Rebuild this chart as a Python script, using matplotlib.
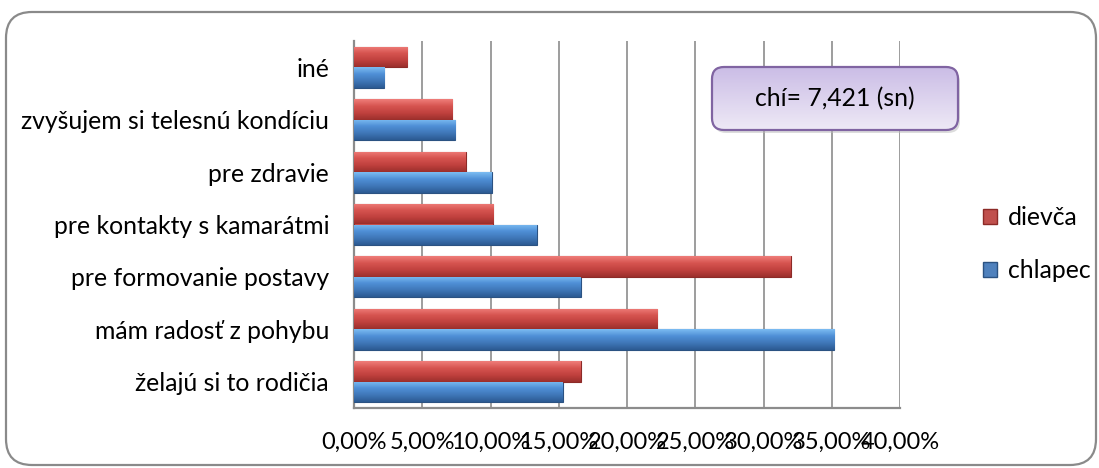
import numpy as np
import matplotlib
matplotlib.use("Agg")
import matplotlib.pyplot as plt
from matplotlib.patches import FancyBboxPatch, Patch
from matplotlib.colors import LinearSegmentedColormap
from matplotlib.ticker import FuncFormatter, MultipleLocator

plt.rcParams["font.family"] = ["Lato", "DejaVu Sans"]

categories = ["želajú si to rodičia", "mám radosť z pohybu", "pre formovanie postavy",
              "pre kontakty s kamarátmi", "pre zdravie", "zvyšujem si telesnú kondíciu", "iné"]
chlapec = [15.3, 35.2, 16.6, 13.4, 10.1, 7.4, 2.2]
dievca = [16.6, 22.2, 32.0, 10.2, 8.2, 7.2, 3.9]
note = "chí= 7,421 (sn)"

W, H = 1099, 468
fs = 17.8

fig = plt.figure(figsize=(W / 100, H / 100), dpi=100)

# background layer in pixel units for the frame and the note box
bg = fig.add_axes([0, 0, 1, 1], zorder=0)
bg.set_xlim(0, W)
bg.set_ylim(H, 0)
bg.axis("off")
bg.add_patch(FancyBboxPatch((6, 12), 1090, 453, boxstyle="round,pad=0,rounding_size=26",
                            fc="white", ec="#8a8a8a", lw=1.6))

ax = fig.add_axes([354 / W, 1 - 408 / H, (900 - 354) / W, (408 - 41) / H], zorder=1)
ax.patch.set_alpha(0)

y = np.arange(len(categories))
h = 0.39

red_cm = LinearSegmentedColormap.from_list("r", ["#9b2f2c", "#c0413e", "#d65450", "#ef7d7a"])
blue_cm = LinearSegmentedColormap.from_list("b", ["#2c5a92", "#3f77b8", "#4f8fd6", "#7cbcf2"])
grad = np.linspace(0, 1, 64).reshape(-1, 1)

bars_b = ax.barh(y - h / 2, chlapec, height=h, color="#4a85c8", ec="#2b5282", lw=0.8, zorder=3)
bars_r = ax.barh(y + h / 2, dievca, height=h, color="#c9504c", ec="#8c2a27", lw=0.8, zorder=3)

for bars, cm in ((bars_b, blue_cm), (bars_r, red_cm)):
    for b in bars:
        x0, y0 = b.get_x(), b.get_y()
        im = ax.imshow(grad, cmap=cm, aspect="auto", origin="lower",
                       extent=[x0, x0 + b.get_width(), y0, y0 + b.get_height()], zorder=3.5)
        im.set_clip_path(b)

ax.set_xlim(0, 40)
ax.set_ylim(-0.5, len(categories) - 0.5)
ax.xaxis.set_major_locator(MultipleLocator(5))
ax.xaxis.set_major_formatter(FuncFormatter(lambda v, p: f"{v:.2f}".replace(".", ",") + "%"))
ax.set_yticks(y)
ax.set_yticklabels(categories)
ax.tick_params(axis="both", length=0, colors="black")
ax.tick_params(axis="x", pad=17, labelsize=17)
ax.tick_params(axis="y", pad=18, labelsize=fs)
ax.grid(axis="x", color="#8c8c8c", lw=1.2, zorder=1)
for s in ("top", "right"):
    ax.spines[s].set_visible(False)
for s in ("left", "bottom"):
    ax.spines[s].set_color("#8c8c8c")
    ax.spines[s].set_linewidth(1.6)

# note box with a soft violet gradient
top = fig.add_axes([0, 0, 1, 1], zorder=2)
top.set_xlim(0, W)
top.set_ylim(H, 0)
top.axis("off")
box = FancyBboxPatch((712, 67), 246, 63, boxstyle="round,pad=0,rounding_size=12",
                     fc="none", ec="#8064a2", lw=1.6, zorder=3)
shadow = FancyBboxPatch((714, 70), 246, 63, boxstyle="round,pad=0,rounding_size=12",
                        fc="#bbbbbb", ec="none", alpha=0.5, zorder=1)
top.add_patch(shadow)
top.add_patch(box)
vio = LinearSegmentedColormap.from_list("v", ["#eee9f6", "#cbbde6"])
im = top.imshow(grad, cmap=vio, aspect="auto", extent=[712, 958, 130, 67], origin="lower", zorder=2)
im.set_clip_path(box)
top.text(835, 99, note, ha="center", va="center", fontsize=fs, zorder=4)

handles = [Patch(fc="#c0504d", ec="#8c2a27"), Patch(fc="#4f81bd", ec="#2b5282")]
fig.legend(handles, ["dievča", "chlapec"], loc="center left", bbox_to_anchor=(983 / W, 1 - 244 / H),
           frameon=False, fontsize=fs, handlelength=0.55, handleheight=0.55, handletextpad=0.45,
           labelspacing=1.2, borderpad=0, borderaxespad=0)

fig.savefig("out.png", dpi=100)
